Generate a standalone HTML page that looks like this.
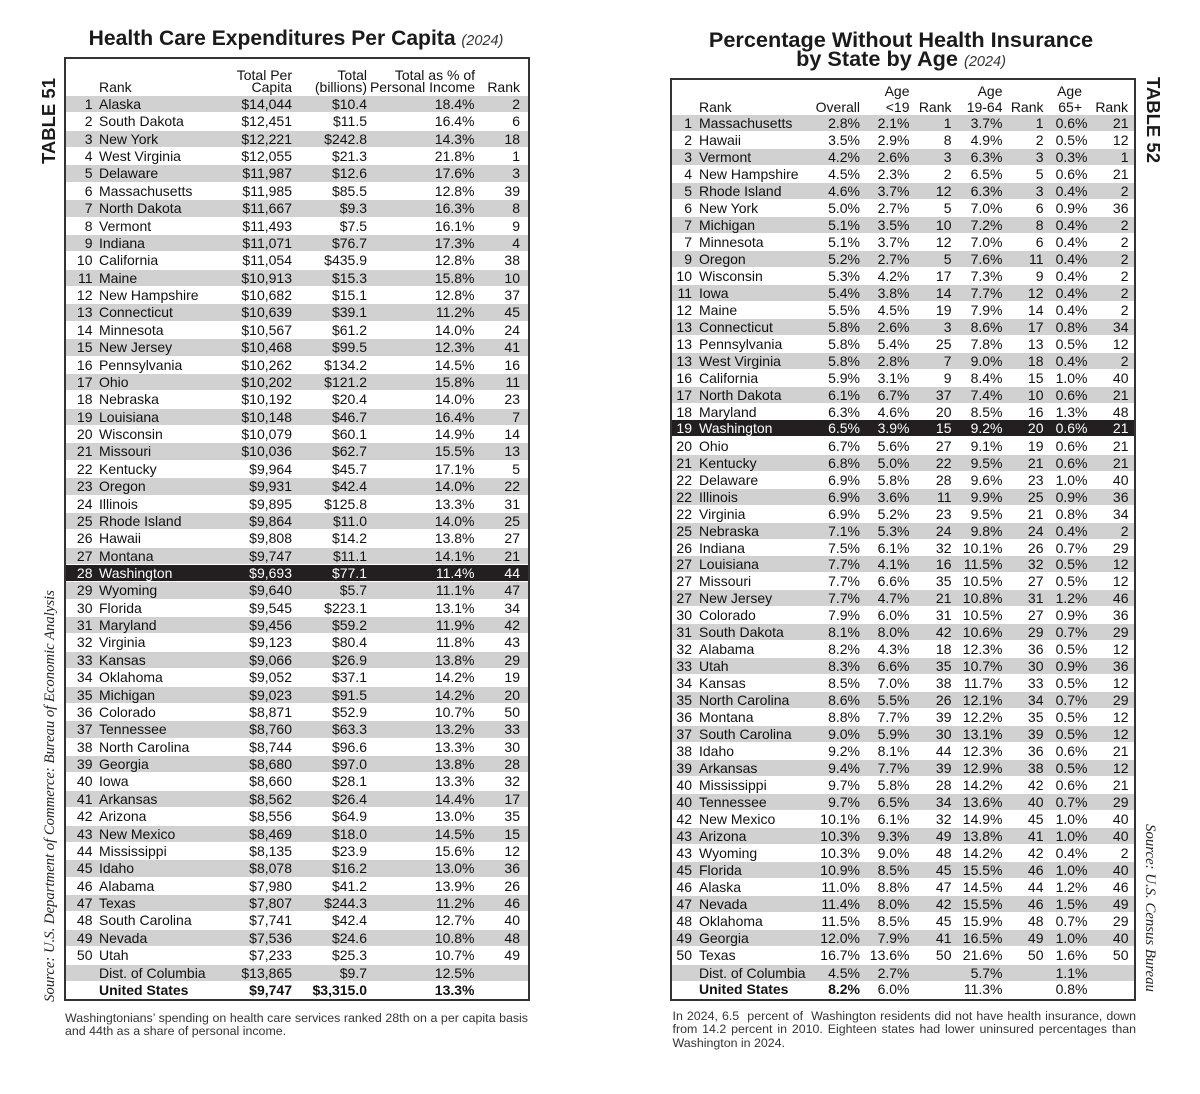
<!DOCTYPE html>
<html><head><meta charset="utf-8">
<style>
body{margin:0;width:1200px;height:1094px;background:#fff;position:relative;overflow:hidden;font-family:"Liberation Sans",Arial,sans-serif;color:#111}
.box{position:absolute;border:2px solid #333;box-sizing:border-box}
.row{position:absolute;font-size:14px;white-space:nowrap}
.row span{position:absolute;top:0}
.L .row{left:66px;width:462px;height:16.4px;line-height:17.37px}
.L .r{right:435.5px}.L .n{left:33px}.L .a{right:236px}.L .b{right:161px}.L .c{right:53.5px}.L .d{right:8px}
.R .row{left:672px;width:462px;height:16px;line-height:16.98px}
.R .r{right:442px}.R .n{left:27px}.R .o{right:274px}.R .a{right:224.5px}.R .x{right:182.5px}.R .b{right:131.5px}.R .y{right:90.5px}.R .c{right:46.5px}.R .z{right:5.5px}
.g{background:#d1d1d1}
.k{background:#231f20;color:#fff}
.bd{font-weight:bold}
.h{position:absolute;font-size:14px;white-space:nowrap}
.hl{line-height:12.5px;top:68.9px}
.hr{line-height:16px;top:82.85px}
.ra{text-align:right}
.title{position:absolute;text-align:center;font-weight:bold;color:#1a1a1a;white-space:nowrap}
.title i{font-weight:normal;font-size:14.5px;color:#333}
.fn{position:absolute;font-size:12.4px;line-height:13.5px;color:#333}
.fl{white-space:nowrap;text-align:justify;text-align-last:justify}
.fe{white-space:nowrap}
.rot{position:absolute;white-space:nowrap;text-align:center}
.tb{font-weight:bold;font-size:18.5px;line-height:24px;height:24px;width:120px;color:#1a1a1a}
.src{font-family:"Liberation Serif",serif;font-style:italic;line-height:20px;height:20px;color:#222}
</style></head><body>

<div class="title" style="left:46px;width:500px;top:27.4px;font-size:21.1px;line-height:24px">Health Care Expenditures Per Capita <i>(2024)</i></div>
<div class="title" style="left:651px;width:500px;top:29.7px;font-size:21.7px;line-height:19px">Percentage Without Health Insurance<br>by State by Age <i>(2024)</i></div>

<div class="rot tb" style="left:-10.8px;top:108.8px;transform:rotate(-90deg)">TABLE 51</div>
<div class="rot tb" style="left:1093.3px;top:108px;transform:rotate(90deg)">TABLE 52</div>
<div class="rot src" style="left:-180.25px;top:785.5px;width:460px;font-size:14.7px;transform:rotate(-90deg)">Source: U.S. Department of Commerce: Bureau of Economic Analysis</div>
<div class="rot src" style="left:1050.25px;top:898px;width:200px;font-size:14.8px;transform:rotate(90deg)">Source: U.S. Census Bureau</div>

<div class="box" style="left:64px;top:57px;width:466px;height:944px"></div>
<div class="box" style="left:670px;top:78px;width:466px;height:923px"></div>

<!-- Left headers -->
<div class="h hl" style="left:99px">&nbsp;<br>Rank</div>
<div class="h hl ra" style="right:908px">Total Per<br>Capita</div>
<div class="h hl ra" style="right:833px">Total<br>(billions)</div>
<div class="h hl ra" style="right:725px">Total as % of<br>Personal Income</div>
<div class="h hl ra" style="right:680px">&nbsp;<br>Rank</div>

<!-- Right headers -->
<div class="h hr" style="left:699px">&nbsp;<br>Rank</div>
<div class="h hr ra" style="right:340px">&nbsp;<br>Overall</div>
<div class="h hr ra" style="right:290.5px">Age<br>&lt;19</div>
<div class="h hr ra" style="right:248.5px">&nbsp;<br>Rank</div>
<div class="h hr ra" style="right:197.5px">Age<br>19-64</div>
<div class="h hr ra" style="right:156.5px">&nbsp;<br>Rank</div>
<div class="h hr ra" style="right:118px">Age<br>65+</div>
<div class="h hr ra" style="right:72px">&nbsp;<br>Rank</div>

<div class="L">
<div class="row g" style="top:96px"><span class="r">1</span><span class="n">Alaska</span><span class="a">$14,044</span><span class="b">$10.4</span><span class="c">18.4%</span><span class="d">2</span></div>
<div class="row" style="top:113.37px"><span class="r">2</span><span class="n">South Dakota</span><span class="a">$12,451</span><span class="b">$11.5</span><span class="c">16.4%</span><span class="d">6</span></div>
<div class="row g" style="top:130.74px"><span class="r">3</span><span class="n">New York</span><span class="a">$12,221</span><span class="b">$242.8</span><span class="c">14.3%</span><span class="d">18</span></div>
<div class="row" style="top:148.11px"><span class="r">4</span><span class="n">West Virginia</span><span class="a">$12,055</span><span class="b">$21.3</span><span class="c">21.8%</span><span class="d">1</span></div>
<div class="row g" style="top:165.48px"><span class="r">5</span><span class="n">Delaware</span><span class="a">$11,987</span><span class="b">$12.6</span><span class="c">17.6%</span><span class="d">3</span></div>
<div class="row" style="top:182.85px"><span class="r">6</span><span class="n">Massachusetts</span><span class="a">$11,985</span><span class="b">$85.5</span><span class="c">12.8%</span><span class="d">39</span></div>
<div class="row g" style="top:200.22px"><span class="r">7</span><span class="n">North Dakota</span><span class="a">$11,667</span><span class="b">$9.3</span><span class="c">16.3%</span><span class="d">8</span></div>
<div class="row" style="top:217.59px"><span class="r">8</span><span class="n">Vermont</span><span class="a">$11,493</span><span class="b">$7.5</span><span class="c">16.1%</span><span class="d">9</span></div>
<div class="row g" style="top:234.96px"><span class="r">9</span><span class="n">Indiana</span><span class="a">$11,071</span><span class="b">$76.7</span><span class="c">17.3%</span><span class="d">4</span></div>
<div class="row" style="top:252.33px"><span class="r">10</span><span class="n">California</span><span class="a">$11,054</span><span class="b">$435.9</span><span class="c">12.8%</span><span class="d">38</span></div>
<div class="row g" style="top:269.70px"><span class="r">11</span><span class="n">Maine</span><span class="a">$10,913</span><span class="b">$15.3</span><span class="c">15.8%</span><span class="d">10</span></div>
<div class="row" style="top:287.07px"><span class="r">12</span><span class="n">New Hampshire</span><span class="a">$10,682</span><span class="b">$15.1</span><span class="c">12.8%</span><span class="d">37</span></div>
<div class="row g" style="top:304.44px"><span class="r">13</span><span class="n">Connecticut</span><span class="a">$10,639</span><span class="b">$39.1</span><span class="c">11.2%</span><span class="d">45</span></div>
<div class="row" style="top:321.81px"><span class="r">14</span><span class="n">Minnesota</span><span class="a">$10,567</span><span class="b">$61.2</span><span class="c">14.0%</span><span class="d">24</span></div>
<div class="row g" style="top:339.18px"><span class="r">15</span><span class="n">New Jersey</span><span class="a">$10,468</span><span class="b">$99.5</span><span class="c">12.3%</span><span class="d">41</span></div>
<div class="row" style="top:356.55px"><span class="r">16</span><span class="n">Pennsylvania</span><span class="a">$10,262</span><span class="b">$134.2</span><span class="c">14.5%</span><span class="d">16</span></div>
<div class="row g" style="top:373.92px"><span class="r">17</span><span class="n">Ohio</span><span class="a">$10,202</span><span class="b">$121.2</span><span class="c">15.8%</span><span class="d">11</span></div>
<div class="row" style="top:391.29px"><span class="r">18</span><span class="n">Nebraska</span><span class="a">$10,192</span><span class="b">$20.4</span><span class="c">14.0%</span><span class="d">23</span></div>
<div class="row g" style="top:408.66px"><span class="r">19</span><span class="n">Louisiana</span><span class="a">$10,148</span><span class="b">$46.7</span><span class="c">16.4%</span><span class="d">7</span></div>
<div class="row" style="top:426.03px"><span class="r">20</span><span class="n">Wisconsin</span><span class="a">$10,079</span><span class="b">$60.1</span><span class="c">14.9%</span><span class="d">14</span></div>
<div class="row g" style="top:443.40px"><span class="r">21</span><span class="n">Missouri</span><span class="a">$10,036</span><span class="b">$62.7</span><span class="c">15.5%</span><span class="d">13</span></div>
<div class="row" style="top:460.77px"><span class="r">22</span><span class="n">Kentucky</span><span class="a">$9,964</span><span class="b">$45.7</span><span class="c">17.1%</span><span class="d">5</span></div>
<div class="row g" style="top:478.14px"><span class="r">23</span><span class="n">Oregon</span><span class="a">$9,931</span><span class="b">$42.4</span><span class="c">14.0%</span><span class="d">22</span></div>
<div class="row" style="top:495.51px"><span class="r">24</span><span class="n">Illinois</span><span class="a">$9,895</span><span class="b">$125.8</span><span class="c">13.3%</span><span class="d">31</span></div>
<div class="row g" style="top:512.88px"><span class="r">25</span><span class="n">Rhode Island</span><span class="a">$9,864</span><span class="b">$11.0</span><span class="c">14.0%</span><span class="d">25</span></div>
<div class="row" style="top:530.25px"><span class="r">26</span><span class="n">Hawaii</span><span class="a">$9,808</span><span class="b">$14.2</span><span class="c">13.8%</span><span class="d">27</span></div>
<div class="row g" style="top:547.62px"><span class="r">27</span><span class="n">Montana</span><span class="a">$9,747</span><span class="b">$11.1</span><span class="c">14.1%</span><span class="d">21</span></div>
<div class="row k" style="top:564.99px"><span class="r">28</span><span class="n">Washington</span><span class="a">$9,693</span><span class="b">$77.1</span><span class="c">11.4%</span><span class="d">44</span></div>
<div class="row g" style="top:582.36px"><span class="r">29</span><span class="n">Wyoming</span><span class="a">$9,640</span><span class="b">$5.7</span><span class="c">11.1%</span><span class="d">47</span></div>
<div class="row" style="top:599.73px"><span class="r">30</span><span class="n">Florida</span><span class="a">$9,545</span><span class="b">$223.1</span><span class="c">13.1%</span><span class="d">34</span></div>
<div class="row g" style="top:617.10px"><span class="r">31</span><span class="n">Maryland</span><span class="a">$9,456</span><span class="b">$59.2</span><span class="c">11.9%</span><span class="d">42</span></div>
<div class="row" style="top:634.47px"><span class="r">32</span><span class="n">Virginia</span><span class="a">$9,123</span><span class="b">$80.4</span><span class="c">11.8%</span><span class="d">43</span></div>
<div class="row g" style="top:651.84px"><span class="r">33</span><span class="n">Kansas</span><span class="a">$9,066</span><span class="b">$26.9</span><span class="c">13.8%</span><span class="d">29</span></div>
<div class="row" style="top:669.21px"><span class="r">34</span><span class="n">Oklahoma</span><span class="a">$9,052</span><span class="b">$37.1</span><span class="c">14.2%</span><span class="d">19</span></div>
<div class="row g" style="top:686.58px"><span class="r">35</span><span class="n">Michigan</span><span class="a">$9,023</span><span class="b">$91.5</span><span class="c">14.2%</span><span class="d">20</span></div>
<div class="row" style="top:703.95px"><span class="r">36</span><span class="n">Colorado</span><span class="a">$8,871</span><span class="b">$52.9</span><span class="c">10.7%</span><span class="d">50</span></div>
<div class="row g" style="top:721.32px"><span class="r">37</span><span class="n">Tennessee</span><span class="a">$8,760</span><span class="b">$63.3</span><span class="c">13.2%</span><span class="d">33</span></div>
<div class="row" style="top:738.69px"><span class="r">38</span><span class="n">North Carolina</span><span class="a">$8,744</span><span class="b">$96.6</span><span class="c">13.3%</span><span class="d">30</span></div>
<div class="row g" style="top:756.06px"><span class="r">39</span><span class="n">Georgia</span><span class="a">$8,680</span><span class="b">$97.0</span><span class="c">13.8%</span><span class="d">28</span></div>
<div class="row" style="top:773.43px"><span class="r">40</span><span class="n">Iowa</span><span class="a">$8,660</span><span class="b">$28.1</span><span class="c">13.3%</span><span class="d">32</span></div>
<div class="row g" style="top:790.80px"><span class="r">41</span><span class="n">Arkansas</span><span class="a">$8,562</span><span class="b">$26.4</span><span class="c">14.4%</span><span class="d">17</span></div>
<div class="row" style="top:808.17px"><span class="r">42</span><span class="n">Arizona</span><span class="a">$8,556</span><span class="b">$64.9</span><span class="c">13.0%</span><span class="d">35</span></div>
<div class="row g" style="top:825.54px"><span class="r">43</span><span class="n">New Mexico</span><span class="a">$8,469</span><span class="b">$18.0</span><span class="c">14.5%</span><span class="d">15</span></div>
<div class="row" style="top:842.91px"><span class="r">44</span><span class="n">Mississippi</span><span class="a">$8,135</span><span class="b">$23.9</span><span class="c">15.6%</span><span class="d">12</span></div>
<div class="row g" style="top:860.28px"><span class="r">45</span><span class="n">Idaho</span><span class="a">$8,078</span><span class="b">$16.2</span><span class="c">13.0%</span><span class="d">36</span></div>
<div class="row" style="top:877.65px"><span class="r">46</span><span class="n">Alabama</span><span class="a">$7,980</span><span class="b">$41.2</span><span class="c">13.9%</span><span class="d">26</span></div>
<div class="row g" style="top:895.02px"><span class="r">47</span><span class="n">Texas</span><span class="a">$7,807</span><span class="b">$244.3</span><span class="c">11.2%</span><span class="d">46</span></div>
<div class="row" style="top:912.39px"><span class="r">48</span><span class="n">South Carolina</span><span class="a">$7,741</span><span class="b">$42.4</span><span class="c">12.7%</span><span class="d">40</span></div>
<div class="row g" style="top:929.76px"><span class="r">49</span><span class="n">Nevada</span><span class="a">$7,536</span><span class="b">$24.6</span><span class="c">10.8%</span><span class="d">48</span></div>
<div class="row" style="top:947.13px"><span class="r">50</span><span class="n">Utah</span><span class="a">$7,233</span><span class="b">$25.3</span><span class="c">10.7%</span><span class="d">49</span></div>
<div class="row g" style="top:964.50px"><span class="n">Dist. of Columbia</span><span class="a">$13,865</span><span class="b">$9.7</span><span class="c">12.5%</span></div>
<div class="row bd" style="top:981.87px"><span class="n">United States</span><span class="a">$9,747</span><span class="b">$3,315.0</span><span class="c">13.3%</span></div>
</div>

<div class="R">
<div class="row g" style="top:115px"><span class="r">1</span><span class="n">Massachusetts</span><span class="o">2.8%</span><span class="a">2.1%</span><span class="x">1</span><span class="b">3.7%</span><span class="y">1</span><span class="c">0.6%</span><span class="z">21</span></div>
<div class="row" style="top:131.98px"><span class="r">2</span><span class="n">Hawaii</span><span class="o">3.5%</span><span class="a">2.9%</span><span class="x">8</span><span class="b">4.9%</span><span class="y">2</span><span class="c">0.5%</span><span class="z">12</span></div>
<div class="row g" style="top:148.96px"><span class="r">3</span><span class="n">Vermont</span><span class="o">4.2%</span><span class="a">2.6%</span><span class="x">3</span><span class="b">6.3%</span><span class="y">3</span><span class="c">0.3%</span><span class="z">1</span></div>
<div class="row" style="top:165.94px"><span class="r">4</span><span class="n">New Hampshire</span><span class="o">4.5%</span><span class="a">2.3%</span><span class="x">2</span><span class="b">6.5%</span><span class="y">5</span><span class="c">0.6%</span><span class="z">21</span></div>
<div class="row g" style="top:182.92px"><span class="r">5</span><span class="n">Rhode Island</span><span class="o">4.6%</span><span class="a">3.7%</span><span class="x">12</span><span class="b">6.3%</span><span class="y">3</span><span class="c">0.4%</span><span class="z">2</span></div>
<div class="row" style="top:199.90px"><span class="r">6</span><span class="n">New York</span><span class="o">5.0%</span><span class="a">2.7%</span><span class="x">5</span><span class="b">7.0%</span><span class="y">6</span><span class="c">0.9%</span><span class="z">36</span></div>
<div class="row g" style="top:216.88px"><span class="r">7</span><span class="n">Michigan</span><span class="o">5.1%</span><span class="a">3.5%</span><span class="x">10</span><span class="b">7.2%</span><span class="y">8</span><span class="c">0.4%</span><span class="z">2</span></div>
<div class="row" style="top:233.86px"><span class="r">7</span><span class="n">Minnesota</span><span class="o">5.1%</span><span class="a">3.7%</span><span class="x">12</span><span class="b">7.0%</span><span class="y">6</span><span class="c">0.4%</span><span class="z">2</span></div>
<div class="row g" style="top:250.84px"><span class="r">9</span><span class="n">Oregon</span><span class="o">5.2%</span><span class="a">2.7%</span><span class="x">5</span><span class="b">7.6%</span><span class="y">11</span><span class="c">0.4%</span><span class="z">2</span></div>
<div class="row" style="top:267.82px"><span class="r">10</span><span class="n">Wisconsin</span><span class="o">5.3%</span><span class="a">4.2%</span><span class="x">17</span><span class="b">7.3%</span><span class="y">9</span><span class="c">0.4%</span><span class="z">2</span></div>
<div class="row g" style="top:284.80px"><span class="r">11</span><span class="n">Iowa</span><span class="o">5.4%</span><span class="a">3.8%</span><span class="x">14</span><span class="b">7.7%</span><span class="y">12</span><span class="c">0.4%</span><span class="z">2</span></div>
<div class="row" style="top:301.78px"><span class="r">12</span><span class="n">Maine</span><span class="o">5.5%</span><span class="a">4.5%</span><span class="x">19</span><span class="b">7.9%</span><span class="y">14</span><span class="c">0.4%</span><span class="z">2</span></div>
<div class="row g" style="top:318.76px"><span class="r">13</span><span class="n">Connecticut</span><span class="o">5.8%</span><span class="a">2.6%</span><span class="x">3</span><span class="b">8.6%</span><span class="y">17</span><span class="c">0.8%</span><span class="z">34</span></div>
<div class="row" style="top:335.74px"><span class="r">13</span><span class="n">Pennsylvania</span><span class="o">5.8%</span><span class="a">5.4%</span><span class="x">25</span><span class="b">7.8%</span><span class="y">13</span><span class="c">0.5%</span><span class="z">12</span></div>
<div class="row g" style="top:352.72px"><span class="r">13</span><span class="n">West Virginia</span><span class="o">5.8%</span><span class="a">2.8%</span><span class="x">7</span><span class="b">9.0%</span><span class="y">18</span><span class="c">0.4%</span><span class="z">2</span></div>
<div class="row" style="top:369.70px"><span class="r">16</span><span class="n">California</span><span class="o">5.9%</span><span class="a">3.1%</span><span class="x">9</span><span class="b">8.4%</span><span class="y">15</span><span class="c">1.0%</span><span class="z">40</span></div>
<div class="row g" style="top:386.68px"><span class="r">17</span><span class="n">North Dakota</span><span class="o">6.1%</span><span class="a">6.7%</span><span class="x">37</span><span class="b">7.4%</span><span class="y">10</span><span class="c">0.6%</span><span class="z">21</span></div>
<div class="row" style="top:403.66px"><span class="r">18</span><span class="n">Maryland</span><span class="o">6.3%</span><span class="a">4.6%</span><span class="x">20</span><span class="b">8.5%</span><span class="y">16</span><span class="c">1.3%</span><span class="z">48</span></div>
<div class="row k" style="top:419.64px"><span class="r">19</span><span class="n">Washington</span><span class="o">6.5%</span><span class="a">3.9%</span><span class="x">15</span><span class="b">9.2%</span><span class="y">20</span><span class="c">0.6%</span><span class="z">21</span></div>
<div class="row" style="top:437.62px"><span class="r">20</span><span class="n">Ohio</span><span class="o">6.7%</span><span class="a">5.6%</span><span class="x">27</span><span class="b">9.1%</span><span class="y">19</span><span class="c">0.6%</span><span class="z">21</span></div>
<div class="row g" style="top:454.60px"><span class="r">21</span><span class="n">Kentucky</span><span class="o">6.8%</span><span class="a">5.0%</span><span class="x">22</span><span class="b">9.5%</span><span class="y">21</span><span class="c">0.6%</span><span class="z">21</span></div>
<div class="row" style="top:471.58px"><span class="r">22</span><span class="n">Delaware</span><span class="o">6.9%</span><span class="a">5.8%</span><span class="x">28</span><span class="b">9.6%</span><span class="y">23</span><span class="c">1.0%</span><span class="z">40</span></div>
<div class="row g" style="top:488.56px"><span class="r">22</span><span class="n">Illinois</span><span class="o">6.9%</span><span class="a">3.6%</span><span class="x">11</span><span class="b">9.9%</span><span class="y">25</span><span class="c">0.9%</span><span class="z">36</span></div>
<div class="row" style="top:505.54px"><span class="r">22</span><span class="n">Virginia</span><span class="o">6.9%</span><span class="a">5.2%</span><span class="x">23</span><span class="b">9.5%</span><span class="y">21</span><span class="c">0.8%</span><span class="z">34</span></div>
<div class="row g" style="top:522.52px"><span class="r">25</span><span class="n">Nebraska</span><span class="o">7.1%</span><span class="a">5.3%</span><span class="x">24</span><span class="b">9.8%</span><span class="y">24</span><span class="c">0.4%</span><span class="z">2</span></div>
<div class="row" style="top:539.50px"><span class="r">26</span><span class="n">Indiana</span><span class="o">7.5%</span><span class="a">6.1%</span><span class="x">32</span><span class="b">10.1%</span><span class="y">26</span><span class="c">0.7%</span><span class="z">29</span></div>
<div class="row g" style="top:556.48px"><span class="r">27</span><span class="n">Louisiana</span><span class="o">7.7%</span><span class="a">4.1%</span><span class="x">16</span><span class="b">11.5%</span><span class="y">32</span><span class="c">0.5%</span><span class="z">12</span></div>
<div class="row" style="top:573.46px"><span class="r">27</span><span class="n">Missouri</span><span class="o">7.7%</span><span class="a">6.6%</span><span class="x">35</span><span class="b">10.5%</span><span class="y">27</span><span class="c">0.5%</span><span class="z">12</span></div>
<div class="row g" style="top:590.44px"><span class="r">27</span><span class="n">New Jersey</span><span class="o">7.7%</span><span class="a">4.7%</span><span class="x">21</span><span class="b">10.8%</span><span class="y">31</span><span class="c">1.2%</span><span class="z">46</span></div>
<div class="row" style="top:607.42px"><span class="r">30</span><span class="n">Colorado</span><span class="o">7.9%</span><span class="a">6.0%</span><span class="x">31</span><span class="b">10.5%</span><span class="y">27</span><span class="c">0.9%</span><span class="z">36</span></div>
<div class="row g" style="top:624.40px"><span class="r">31</span><span class="n">South Dakota</span><span class="o">8.1%</span><span class="a">8.0%</span><span class="x">42</span><span class="b">10.6%</span><span class="y">29</span><span class="c">0.7%</span><span class="z">29</span></div>
<div class="row" style="top:641.38px"><span class="r">32</span><span class="n">Alabama</span><span class="o">8.2%</span><span class="a">4.3%</span><span class="x">18</span><span class="b">12.3%</span><span class="y">36</span><span class="c">0.5%</span><span class="z">12</span></div>
<div class="row g" style="top:658.36px"><span class="r">33</span><span class="n">Utah</span><span class="o">8.3%</span><span class="a">6.6%</span><span class="x">35</span><span class="b">10.7%</span><span class="y">30</span><span class="c">0.9%</span><span class="z">36</span></div>
<div class="row" style="top:675.34px"><span class="r">34</span><span class="n">Kansas</span><span class="o">8.5%</span><span class="a">7.0%</span><span class="x">38</span><span class="b">11.7%</span><span class="y">33</span><span class="c">0.5%</span><span class="z">12</span></div>
<div class="row g" style="top:692.32px"><span class="r">35</span><span class="n">North Carolina</span><span class="o">8.6%</span><span class="a">5.5%</span><span class="x">26</span><span class="b">12.1%</span><span class="y">34</span><span class="c">0.7%</span><span class="z">29</span></div>
<div class="row" style="top:709.30px"><span class="r">36</span><span class="n">Montana</span><span class="o">8.8%</span><span class="a">7.7%</span><span class="x">39</span><span class="b">12.2%</span><span class="y">35</span><span class="c">0.5%</span><span class="z">12</span></div>
<div class="row g" style="top:726.28px"><span class="r">37</span><span class="n">South Carolina</span><span class="o">9.0%</span><span class="a">5.9%</span><span class="x">30</span><span class="b">13.1%</span><span class="y">39</span><span class="c">0.5%</span><span class="z">12</span></div>
<div class="row" style="top:743.26px"><span class="r">38</span><span class="n">Idaho</span><span class="o">9.2%</span><span class="a">8.1%</span><span class="x">44</span><span class="b">12.3%</span><span class="y">36</span><span class="c">0.6%</span><span class="z">21</span></div>
<div class="row g" style="top:760.24px"><span class="r">39</span><span class="n">Arkansas</span><span class="o">9.4%</span><span class="a">7.7%</span><span class="x">39</span><span class="b">12.9%</span><span class="y">38</span><span class="c">0.5%</span><span class="z">12</span></div>
<div class="row" style="top:777.22px"><span class="r">40</span><span class="n">Mississippi</span><span class="o">9.7%</span><span class="a">5.8%</span><span class="x">28</span><span class="b">14.2%</span><span class="y">42</span><span class="c">0.6%</span><span class="z">21</span></div>
<div class="row g" style="top:794.20px"><span class="r">40</span><span class="n">Tennessee</span><span class="o">9.7%</span><span class="a">6.5%</span><span class="x">34</span><span class="b">13.6%</span><span class="y">40</span><span class="c">0.7%</span><span class="z">29</span></div>
<div class="row" style="top:811.18px"><span class="r">42</span><span class="n">New Mexico</span><span class="o">10.1%</span><span class="a">6.1%</span><span class="x">32</span><span class="b">14.9%</span><span class="y">45</span><span class="c">1.0%</span><span class="z">40</span></div>
<div class="row g" style="top:828.16px"><span class="r">43</span><span class="n">Arizona</span><span class="o">10.3%</span><span class="a">9.3%</span><span class="x">49</span><span class="b">13.8%</span><span class="y">41</span><span class="c">1.0%</span><span class="z">40</span></div>
<div class="row" style="top:845.14px"><span class="r">43</span><span class="n">Wyoming</span><span class="o">10.3%</span><span class="a">9.0%</span><span class="x">48</span><span class="b">14.2%</span><span class="y">42</span><span class="c">0.4%</span><span class="z">2</span></div>
<div class="row g" style="top:862.12px"><span class="r">45</span><span class="n">Florida</span><span class="o">10.9%</span><span class="a">8.5%</span><span class="x">45</span><span class="b">15.5%</span><span class="y">46</span><span class="c">1.0%</span><span class="z">40</span></div>
<div class="row" style="top:879.10px"><span class="r">46</span><span class="n">Alaska</span><span class="o">11.0%</span><span class="a">8.8%</span><span class="x">47</span><span class="b">14.5%</span><span class="y">44</span><span class="c">1.2%</span><span class="z">46</span></div>
<div class="row g" style="top:896.08px"><span class="r">47</span><span class="n">Nevada</span><span class="o">11.4%</span><span class="a">8.0%</span><span class="x">42</span><span class="b">15.5%</span><span class="y">46</span><span class="c">1.5%</span><span class="z">49</span></div>
<div class="row" style="top:913.06px"><span class="r">48</span><span class="n">Oklahoma</span><span class="o">11.5%</span><span class="a">8.5%</span><span class="x">45</span><span class="b">15.9%</span><span class="y">48</span><span class="c">0.7%</span><span class="z">29</span></div>
<div class="row g" style="top:930.04px"><span class="r">49</span><span class="n">Georgia</span><span class="o">12.0%</span><span class="a">7.9%</span><span class="x">41</span><span class="b">16.5%</span><span class="y">49</span><span class="c">1.0%</span><span class="z">40</span></div>
<div class="row" style="top:947.02px"><span class="r">50</span><span class="n">Texas</span><span class="o">16.7%</span><span class="a">13.6%</span><span class="x">50</span><span class="b">21.6%</span><span class="y">50</span><span class="c">1.6%</span><span class="z">50</span></div>
<div class="row g" style="top:964.5px"><span class="n">Dist. of Columbia</span><span class="o">4.5%</span><span class="a">2.7%</span><span class="b">5.7%</span><span class="c">1.1%</span></div>
<div class="row" style="top:981.48px"><span class="n bd">United States</span><span class="o bd">8.2%</span><span class="a">6.0%</span><span class="b">11.3%</span><span class="c">0.8%</span></div>
</div>

<div class="fn" style="left:65px;top:1011.8px;width:463px">
<div class="fl">Washingtonians’ spending on health care services ranked 28th on a per capita basis</div>
<div class="fe">and 44th as a share of personal income.</div>
</div>
<div class="fn" style="left:672.5px;top:1009.8px;width:463.5px">
<div class="fl">In 2024, 6.5&nbsp; percent of&nbsp; Washington residents did not have health insurance, down</div>
<div class="fl">from 14.2 percent in 2010. Eighteen states had lower uninsured percentages than</div>
<div class="fe">Washington in 2024.</div>
</div>

</body></html>
